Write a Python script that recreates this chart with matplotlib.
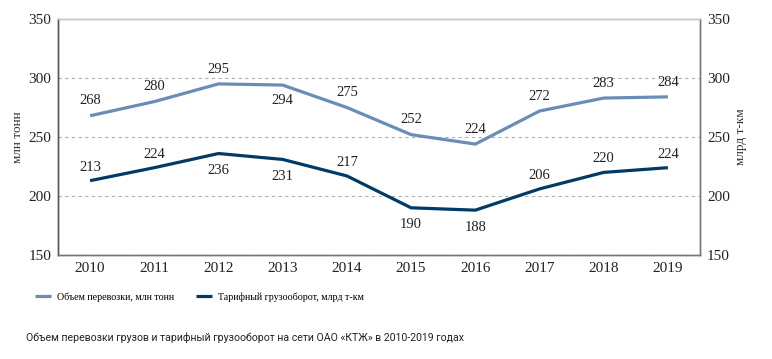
import matplotlib.pyplot as plt
import matplotlib.ticker as ticker

# data
years = [2010, 2011, 2012, 2013, 2014, 2015, 2016, 2017, 2018, 2019]
volume = [268, 280, 295, 294, 275, 252, 244, 272, 283, 284]
volume_labels = ['268', '280', '295', '294', '275', '252', '224', '272', '283', '284']
turnover = [213, 224, 236, 231, 217, 190, 188, 206, 220, 224]
turnover_labels = ['213', '224', '236', '231', '217', '190', '188', '206', '220', '224']
volume_below = [2013]
turnover_below = [2012, 2013, 2015, 2016]

c_light = '#6a8db6'
c_dark = '#003a66'
serif = ['Liberation Serif', 'DejaVu Serif']

fig = plt.figure(figsize=(7.72, 3.59), dpi=100)
ax = fig.add_axes([58 / 772, 104 / 359, 642 / 772, 236 / 359])

ax.plot(years, volume, color=c_light, lw=2.3, solid_capstyle='butt',
        label='Объем перевозки, млн тонн')
ax.plot(years, turnover, color=c_dark, lw=2.3, solid_capstyle='butt',
        label='Тарифный грузооборот, млрд т-км')

for x, v, t in zip(years, volume, volume_labels):
    off = -16 if x in volume_below else 6
    ax.annotate(t, (x, v), xytext=(0, off), textcoords='offset points',
                ha='center', va='bottom', fontsize=10.5, family=serif, color='#222222')
for x, v, t in zip(years, turnover, turnover_labels):
    off = -17 if x in turnover_below else 5
    ax.annotate(t, (x, v), xytext=(0, off), textcoords='offset points',
                ha='center', va='bottom', fontsize=10.5, family=serif, color='#222222')

ax.set_xlim(2009.5, 2019.5)
ax.set_ylim(150, 350)
ax.set_xticks(years)
ax.yaxis.set_major_locator(ticker.MultipleLocator(50))
ax.grid(axis='y', ls=(0, (3, 3)), color='#b0b0b0', lw=0.8)
ax.set_axisbelow(True)

ax2 = ax.twinx()
ax2.set_ylim(150, 350)
ax2.yaxis.set_major_locator(ticker.MultipleLocator(50))

for a in (ax, ax2):
    a.tick_params(length=0, labelsize=11, pad=5, colors='#222222')
    for lab in a.get_xticklabels() + a.get_yticklabels():
        lab.set_family(serif)
    a.spines['top'].set_color('#c8c8c8')
    a.spines['left'].set_color('#555555')
    a.spines['right'].set_color('#777777')
    a.spines['bottom'].set_color('#777777')
    for s in a.spines.values():
        s.set_linewidth(1.0)

ax.set_ylabel('млн тонн', fontsize=9.5, family=serif, color='#333333', labelpad=3)
ax2.set_ylabel('млрд т-км', fontsize=9.5, family=serif, color='#333333', labelpad=4)

fig.legend(loc='center', bbox_to_anchor=(0.258, 0.173), ncol=2, frameon=False,
           handlelength=1.6, columnspacing=2.2, handletextpad=0.6,
           prop={'family': serif, 'size': 7.2})

fig.text(0.318, 0.058, 'Объем перевозки грузов и тарифный грузооборот на сети ОАО «КТЖ» в 2010-2019 годах',
         ha='center', va='center', fontsize=7.6,
         family=['Roboto', 'DejaVu Sans'], color='#222222')

fig.savefig('out.png', dpi=100)
